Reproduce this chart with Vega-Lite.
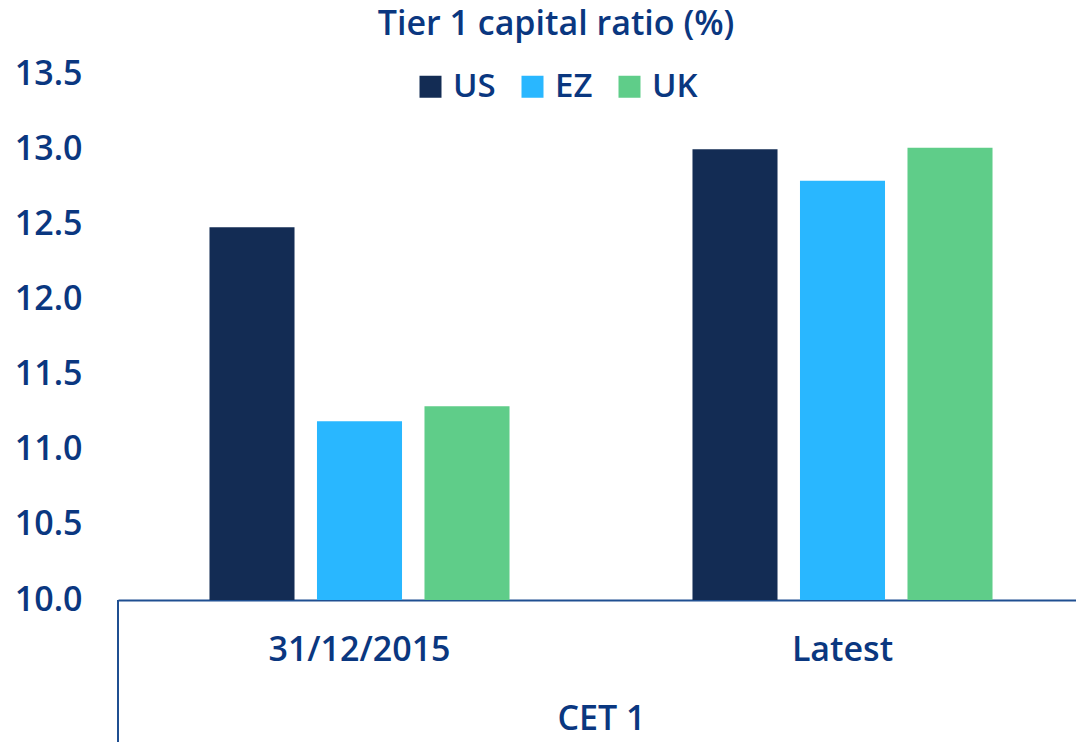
{
  "$schema": "https://vega.github.io/schema/vega-lite/v6.json",
  "width": 958,
  "height": 526,
  "autosize": "none",
  "padding": {"left": 118, "top": 74, "right": 0, "bottom": 142},
  "background": "white",
  "config": {"view": {"stroke": null}},
  "title": {
    "text": "Tier 1 capital ratio (%)",
    "anchor": "middle",
    "dx": -41,
    "offset": 15,
    "fontSize": 34,
    "font": "Open Sans",
    "fontWeight": 600,
    "color": "#0a3780"
  },
  "data": {
    "values": [
      {"period": "31/12/2015", "country": "US", "value": 12.48},
      {"period": "31/12/2015", "country": "EZ", "value": 11.19},
      {"period": "31/12/2015", "country": "UK", "value": 11.29},
      {"period": "Latest", "country": "US", "value": 13.0},
      {"period": "Latest", "country": "EZ", "value": 12.79},
      {"period": "Latest", "country": "UK", "value": 13.01}
    ]
  },
  "layer": [
    {
      "mark": {"type": "bar"},
      "encoding": {
        "x": {
          "field": "period",
          "type": "nominal",
          "sort": ["31/12/2015", "Latest"],
          "scale": {"range": [0, 966], "paddingInner": 0, "paddingOuter": 0},
          "axis": {
            "title": "CET 1",
            "titleFontSize": 34,
            "titleFont": "Open Sans",
            "titleFontWeight": 600,
            "titleColor": "#0a3780",
            "titlePadding": 35,
            "labelFontSize": 34,
            "labelFont": "Open Sans",
            "labelFontWeight": 600,
            "labelColor": "#0a3780",
            "labelPadding": 33,
            "labelLimit": 0,
            "labelAngle": 0,
            "labelOverlap": false,
            "ticks": false,
            "domainColor": "#1f4f91",
            "domainWidth": 2
          }
        },
        "xOffset": {
          "field": "country",
          "type": "nominal",
          "sort": ["US", "EZ", "UK"],
          "scale": {"paddingInner": 0.209, "paddingOuter": 0.851}
        },
        "y": {
          "field": "value",
          "type": "quantitative",
          "scale": {"domain": [10, 13.5], "zero": false, "nice": false},
          "axis": {
            "title": null,
            "values": [10, 10.5, 11, 11.5, 12, 12.5, 13, 13.5],
            "format": ".1f",
            "grid": false,
            "domain": false,
            "ticks": false,
            "labelFontSize": 34,
            "labelFont": "Open Sans",
            "labelFontWeight": 600,
            "labelColor": "#0a3780",
            "labelPadding": 36
          }
        },
        "y2": {"datum": 10},
        "color": {
          "field": "country",
          "type": "nominal",
          "sort": ["US", "EZ", "UK"],
          "scale": {"domain": ["US", "EZ", "UK"], "range": ["#132c54", "#29b7ff", "#5fcd89"]},
          "legend": {
            "title": null,
            "orient": "none",
            "legendX": 296,
            "legendY": -4,
            "direction": "horizontal",
            "symbolType": "square",
            "symbolSize": 484,
            "symbolStrokeWidth": 0,
            "labelFontSize": 33,
            "labelFont": "Open Sans",
            "labelFontWeight": 600,
            "labelColor": "#0a3780",
            "labelOffset": 6,
            "columnPadding": 20
          }
        }
      }
    },
    {
      "mark": {"type": "rule", "color": "#1f4f91", "strokeWidth": 2, "clip": false},
      "data": {"values": [{"period": "31/12/2015", "y1": 10, "y2": 9.05}]},
      "encoding": {
        "x": {"field": "period", "type": "nominal", "bandPosition": 0},
        "y": {"field": "y1", "type": "quantitative"},
        "y2": {"field": "y2"}
      }
    }
  ]
}
